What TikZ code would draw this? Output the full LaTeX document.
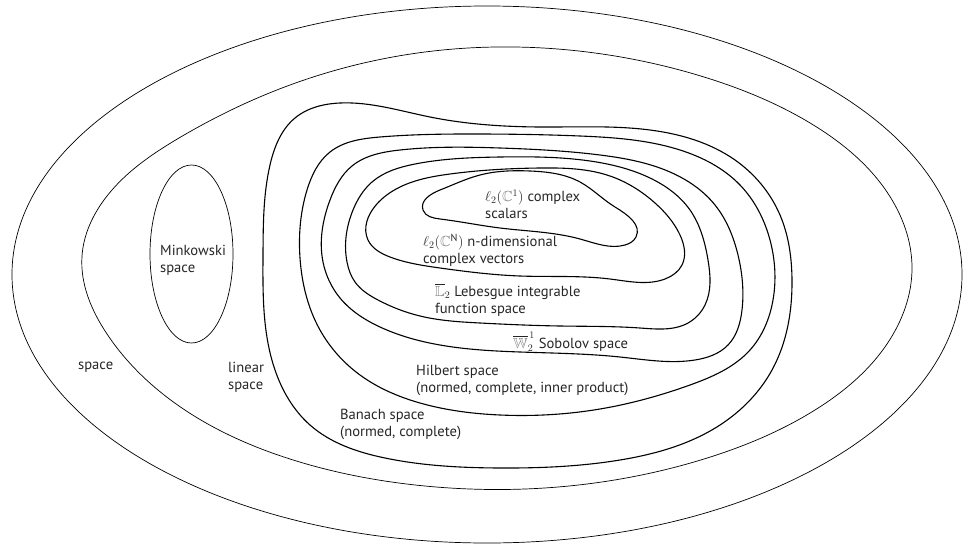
\documentclass[tikz,border=0pt]{standalone}
\usepackage{fontspec}
\usepackage{amssymb}
\usetikzlibrary{hobby}
\setmainfont{PT Sans}
\newcommand{\dbl}[1]{{\color{gray}\mathbb{#1}}}
\begin{document}
\begin{tikzpicture}[x=1pt, y=-1pt, line join=round,
    shell/.style={line width=0.7pt},
    region/.style={line width=1.1pt},
    lbl/.style={anchor=west, align=left, inner sep=0pt,
      font=\fontsize{14.6}{17}\selectfont, text=black!85}]
  \useasboundingbox (0,0) rectangle (963,546);

  % space and linear space
  \draw[shell] (487,274.5) ellipse [x radius=475pt, y radius=268.5pt];
  \draw[shell] plot[closed hobby] coordinates {(912,268) (887,192) (815,126) (704,77)
    (569,50) (425,52) (290,85) (179,138) (107,196) (82,256) (107,334) (179,406)
    (290,459) (425,486) (569,486) (704,459) (815,410) (887,344)};

  % Minkowski
  \draw[shell] (191.5,254) ellipse [x radius=41.5pt, y radius=89pt];

  % Banach
  \draw[region] plot[closed hobby] coordinates {(263,255) (270,165) (295,118) (340,103)
    (430,117) (540,127) (650,130) (735,160) (780,215) (792,280) (772,370) (720,425)
    (620,460) (500,468) (385,458) (310,425) (275,370)};

  % Hilbert
  \draw[region] plot[closed hobby] coordinates {(300,258) (307,190) (330,152) (380,137)
    (480,134) (580,136) (680,150) (740,185) (770,240) (773,300) (750,350) (690,385)
    (600,409) (500,415) (420,403) (360,375) (320,330)};

  % Sobolev
  \draw[region] plot[closed hobby] coordinates {(323,262) (330,200) (352,166) (400,150)
    (500,148) (600,155) (670,172) (715,205) (738,255) (742,310) (728,345) (695,360)
    (620,357) (520,352) (440,345) (380,327) (340,298)};

  % Lebesgue
  \draw[region] plot[closed hobby] coordinates {(347,262) (353,210) (372,182) (415,164)
    (500,157) (590,161) (650,178) (690,210) (708,260) (705,305) (688,323) (640,328)
    (560,326) (480,323) (420,316) (378,300) (355,282)};

  % n-dimensional
  \draw[region] plot[closed hobby] coordinates {(368,240) (376,205) (400,187) (450,174)
    (540,168) (610,176) (655,203) (680,235) (682,265) (665,279) (610,279) (520,276)
    (440,268) (390,257)};

  % scalars
  \draw[region] plot[closed hobby] coordinates {(423,210) (440,190) (480,175) (530,171)
    (580,182) (615,207) (636,237) (625,245) (580,239) (500,228) (440,219)};

  % labels
  \node[lbl] (sp) at (78,367) {space};
  \node[lbl] (lin) at (228,377) {linear\\space};
  \node[lbl] (mink) at (160,260) {Minkowski\\space};
  \node[lbl] (ban) at (340,424) {Banach space\\(normed, complete)};
  \node[lbl] (hil) at (416,380) {Hilbert space\\(normed, complete, inner product)};
  \node[lbl] (sob) at (513,342) {$\overline{\dbl{W}}_2^{\,1}$ Sobolov space};
  \node[lbl] (leb) at (435,300) {$\overline{\dbl{L}}_2$ Lebesgue integrable\\function space};
  \node[lbl] (ndim) at (423,250) {$\ell_2(\dbl{C}^{\mathrm{N}})$ n-dimensional\\complex vectors};
  \node[lbl] (scal) at (485,204) {$\ell_2(\dbl{C}^1)$ complex\\scalars};
\end{tikzpicture}
\end{document}
